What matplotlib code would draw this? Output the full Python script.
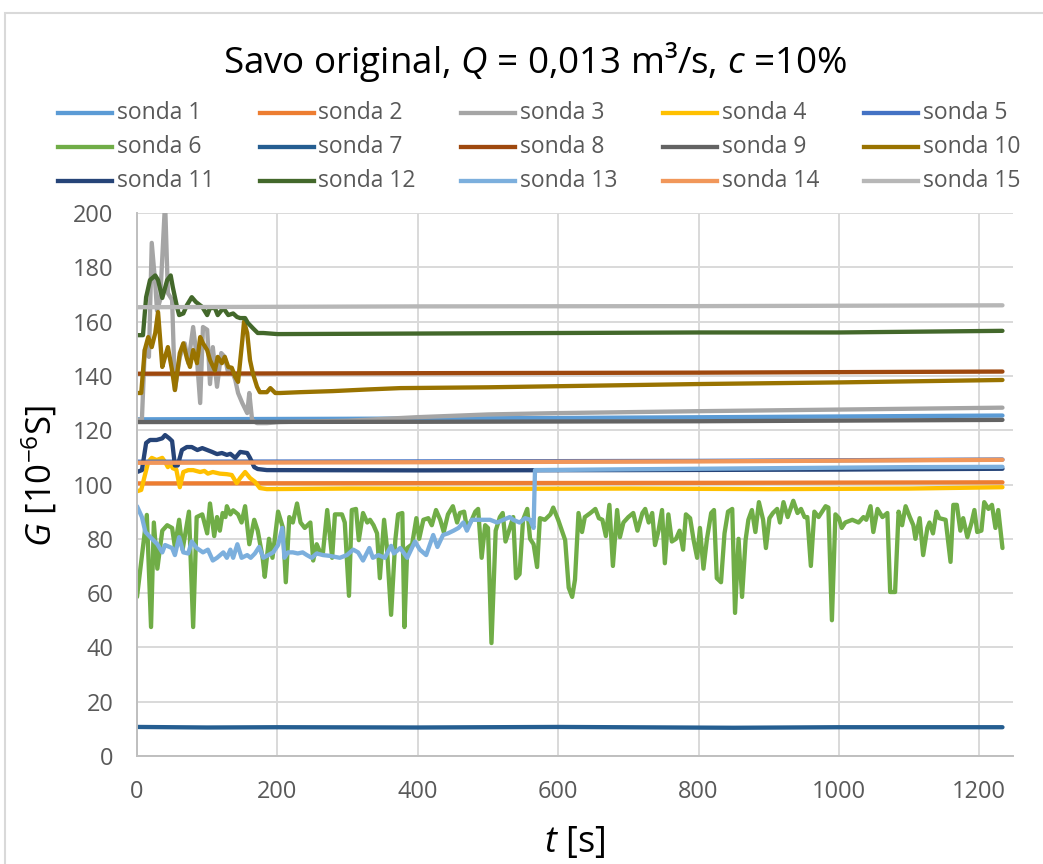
import matplotlib
matplotlib.use("Agg")
import matplotlib.pyplot as plt
from matplotlib.lines import Line2D
from matplotlib.patches import Rectangle

plt.rcParams['font.family'] = ['Open Sans', 'DejaVu Sans']
plt.rcParams['mathtext.fontset'] = 'custom'
plt.rcParams['mathtext.rm'] = 'Open Sans'
plt.rcParams['mathtext.it'] = 'Open Sans:italic'

# ---------------- data ----------------
series_names = [f"sonda {i}" for i in range(1, 16)]
series_colors = ["#5B9BD5", "#ED7D31", "#A5A5A5", "#FFC000", "#4472C4",
                 "#70AD47", "#255E91", "#9E480E", "#636363", "#997300",
                 "#264478", "#43682B", "#7CAFDD", "#F1975A", "#B7B7B7"]

s1_t = [0, 300, 600, 900, 1233]
s1_g = [124.0, 124.2, 124.5, 124.9, 125.4]

s2_t = [0, 400, 800, 1233]
s2_g = [100.4, 100.5, 100.6, 100.8]

s3_t = [0, 7, 11, 17, 21, 26, 28.5, 33, 40, 44, 50, 54, 61, 68, 73, 80, 85.5, 90,
        94, 100, 104, 108, 114, 120, 125, 130, 135, 140, 144, 150, 157, 160, 164,
        171, 185, 204, 300, 400, 500, 600, 800, 1000, 1233]
s3_g = [123.7, 124, 149.5, 147, 189, 174, 164, 168, 204, 170.5, 168, 134.8, 147,
        152, 144.7, 158, 146, 130, 158, 157, 137, 150.6, 136, 148.4, 147, 141, 142,
        138.5, 133.7, 130, 126.3, 133.7, 123.7, 122.6, 122.6, 123, 123.5, 124.8,
        125.8, 126.3, 127, 127.6, 128.3]

s4_t = [0, 6, 16, 21, 28, 36, 40, 44, 47, 51, 56, 61, 66, 73, 80, 90, 96, 101, 108,
        118, 128, 135, 142, 147, 154, 161, 168, 175, 185, 300, 500, 700, 900, 1100, 1233]
s4_g = [97.5, 98, 108.3, 109.8, 109, 109.8, 108.3, 106.4, 108, 106, 105.5, 99,
        104.6, 105.3, 105.3, 104.6, 105, 104, 104.6, 104, 103.8, 103.5, 100.5, 102.4,
        104.6, 102.4, 101, 98.7, 98.3, 98.5, 98.4, 98.5, 98.3, 98.5, 99.0]

s5_t = [0, 400, 800, 1233]
s5_g = [108.4, 108.5, 108.7, 109.2]

s6_t = [0, 14, 20, 24, 29, 36, 43, 50, 54, 60, 65, 74, 80, 85, 93, 100, 104, 110,
        114, 118, 122, 126, 128, 133, 137, 144, 149, 154, 160, 167, 172, 179, 182,
        188, 193, 201, 208, 212, 217, 222, 228, 233, 239, 247, 251, 256, 261, 265,
        271, 278, 282, 292, 296, 302, 306, 312, 316, 322, 328, 332, 337, 342, 346,
        352, 356, 362, 368, 372, 378, 381, 385, 392, 398, 402, 408, 415, 420, 426,
        432, 437, 443, 450, 456, 460, 466, 470, 477, 482, 486, 491, 496, 500, 505,
        511, 517, 521, 525, 530, 536, 540, 545, 550, 556, 560, 565, 570, 574, 581,
        589, 593, 600, 610, 615, 620, 624, 629, 634, 638, 646, 653, 658, 663, 668,
        673, 678, 684, 688, 693, 700, 707, 713, 720, 724, 729, 734, 738, 743, 748,
        752, 757, 762, 768, 773, 778, 782, 788, 793, 798, 802, 807, 812, 818, 822,
        826, 832, 837, 842, 848, 852, 857, 862, 867, 871, 876, 881, 886, 892, 896,
        901, 906, 912, 916, 921, 927, 935, 941, 946, 951, 955, 960, 965, 971, 981,
        985, 990, 995, 1000, 1004, 1009, 1019, 1028, 1035, 1039, 1045, 1049, 1055,
        1062, 1069, 1073, 1080, 1085, 1090, 1095, 1101, 1106, 1109, 1115, 1120,
        1126, 1129, 1134, 1139, 1143, 1152, 1159, 1163, 1168, 1173, 1177, 1183,
        1189, 1193, 1197, 1203, 1207, 1213, 1218, 1223, 1227, 1233]
s6_g = [58.6, 88.8, 47.5, 86, 69, 83, 85, 84, 77, 87, 76, 90, 47.5, 88, 89, 82, 93,
        81, 88, 83, 89.5, 88, 92, 89, 90.5, 89, 86, 92, 78, 87, 83, 73, 66, 80, 73,
        90, 84, 64, 88, 86, 93, 86, 84, 86, 72, 78, 75, 75, 90.6, 73, 89, 89, 86, 59,
        90.6, 91, 79.5, 89.5, 86, 87, 85, 82, 65.5, 87, 77, 52, 79.5, 89, 89.5, 47.5,
        76.6, 78, 87.6, 80, 87, 87.6, 85, 90.6, 87, 82.5, 89, 92, 86, 89.5, 90, 84,
        87, 90, 91, 73, 85, 84, 41.6, 83, 88, 89.5, 79, 83, 88, 65.5, 67, 87, 91, 80,
        78, 69.6, 87.6, 87, 89, 91.5, 87, 79.5, 62, 58.6, 65, 89.5, 82.5, 88, 89.5,
        91, 87.6, 87, 81, 92.5, 70, 90.6, 80.6, 86, 88, 89.5, 83, 89.5, 91, 86, 89.5,
        77.7, 83, 90.6, 71, 89, 79, 80, 83, 76, 89, 87.6, 79.5, 73, 84, 69, 80, 89.5,
        90.6, 65.5, 64, 82, 90, 91, 52.7, 80, 58.6, 79.5, 87, 90.6, 82.5, 93.5, 87,
        76.6, 87.6, 89.5, 91, 86, 93.5, 88, 94, 89.5, 91, 88, 88, 70, 90, 88, 92,
        91.5, 50, 89, 87.6, 84, 86, 87, 86, 88, 87, 92, 82.5, 91, 88, 89.5, 60.4,
        60.4, 90, 85, 92, 88, 85, 80, 87.6, 74, 84, 86, 82, 90, 87.6, 87, 71.5, 92.5,
        92.5, 83, 87.6, 80.6, 86, 90.6, 82.5, 83, 93.5, 91, 92.5, 84, 90.6, 76.6]

s7_t = [0, 100, 200, 400, 600, 850, 1000, 1233]
s7_g = [10.7, 10.5, 10.6, 10.5, 10.7, 10.4, 10.6, 10.6]

s8_t = [0, 400, 800, 1233]
s8_g = [140.8, 141.0, 141.2, 141.6]

s9_t = [0, 400, 800, 1233]
s9_g = [123.0, 123.1, 123.3, 123.8]

s10_t = [0, 6, 11, 16, 21, 26, 30, 36, 40, 44, 50, 54, 61, 66, 71, 75.5, 80, 85.5,
         90, 94, 100, 104, 111, 115, 121, 125, 130, 135, 140, 144, 150, 152.5, 157,
         161, 165, 171, 175, 185, 190, 197, 204, 232, 279, 328, 375, 500, 600, 800,
         1000, 1233]
s10_g = [133.7, 133.7, 149.5, 154.3, 150.6, 155.8, 163.5, 143.3, 147, 150.6, 142,
         134.8, 148.4, 152, 146.6, 143.3, 149.5, 144.7, 154.3, 152, 149.5, 145.8, 142,
         147, 144.7, 147, 143.3, 143, 139.6, 137.8, 153, 160, 155.8, 145.8, 141, 136,
         134, 134, 135.5, 133.7, 133.7, 134, 134.4, 135, 135.5, 135.8, 136.2, 137,
         137.6, 138.5]

s11_t = [0, 7, 13, 18.5, 28, 36, 40, 46, 50, 54, 58, 64, 71, 78, 86, 93, 100, 107,
         114, 121, 128, 133, 140, 147, 157, 161, 167, 172, 185, 400, 700, 1000, 1233]
s11_g = [104.6, 105.3, 115.3, 116.4, 116.4, 117, 118.2, 117, 116, 107, 107, 112.7,
         113.8, 113.8, 112.7, 113.4, 112.7, 112, 111.2, 111.6, 110.9, 111.3, 109.8,
         112, 111.6, 109.8, 106.4, 105.7, 105.3, 105.2, 105.3, 105.5, 105.8]

s12_t = [0, 8.5, 13, 18.5, 26, 30, 36, 43, 48, 51, 57, 60, 66, 71, 78, 84, 93, 100,
         104, 111, 115, 123, 130, 137, 142.5, 147, 154, 158, 165, 172, 180, 200, 400,
         600, 800, 1000, 1233]
s12_g = [155, 155, 169, 175.3, 177, 175.3, 168.7, 175.3, 177, 172.7, 165.4, 162.4,
         163, 166, 169, 167.2, 165.4, 162.4, 165, 165, 162.4, 165, 162.4, 163, 161.7,
         161.3, 161.3, 159.5, 157.6, 155.8, 155.8, 155.4, 155.6, 155.8, 156, 156,
         156.6]

s13_t = [0, 7, 12, 19, 29, 36, 40, 50, 54, 60, 66, 73, 78, 85, 94, 101, 108, 114,
         123, 128, 133, 137, 143, 149, 157, 162, 168, 174, 180, 187, 194, 201, 207,
         210, 215, 222, 229, 236, 242, 249, 256, 265, 275, 289, 299, 308, 315, 322,
         331, 336, 344, 353, 362, 366, 375, 385, 396, 403, 412, 422, 428, 436, 443,
         451, 458, 465, 470, 477, 482, 493, 503, 513, 522, 531, 536, 545, 553, 560,
         565, 567, 700, 900, 1100, 1233]
s13_g = [92, 88, 82.5, 80.6, 78, 75, 77.7, 76.6, 74, 80.6, 75, 74.6, 79, 76.6, 75,
         76, 72, 73, 75, 73, 76, 73, 78, 73, 74, 73, 74.6, 77, 73, 74, 75, 77.7, 84,
         73, 75, 75, 74.6, 75, 74, 73, 74.6, 74, 73.7, 73, 74, 76, 75, 72, 76.6, 73,
         74, 73, 77.4, 74.6, 76.6, 73, 79, 76, 74, 81.4, 77, 81.4, 82, 83, 84, 86, 83,
         87, 87, 87, 87, 86, 87, 88, 87, 86, 87.6, 87, 84, 105.3, 105.6, 106, 106.4,
         106.5]

s14_t = [0, 400, 800, 1233]
s14_g = [108.0, 108.2, 108.5, 109.1]

s15_t = [0, 400, 800, 1233]
s15_g = [165.3, 165.6, 165.7, 166.0]

x_ticks = [0, 200, 400, 600, 800, 1000, 1200]
y_ticks = [0, 20, 40, 60, 80, 100, 120, 140, 160, 180, 200]

all_t = [s1_t, s2_t, s3_t, s4_t, s5_t, s6_t, s7_t, s8_t, s9_t, s10_t, s11_t,
         s12_t, s13_t, s14_t, s15_t]
all_g = [s1_g, s2_g, s3_g, s4_g, s5_g, s6_g, s7_g, s8_g, s9_g, s10_g, s11_g,
         s12_g, s13_g, s14_g, s15_g]

# ---------------- figure ----------------
W, H = 1043, 864
fig = plt.figure(figsize=(W / 100, H / 100), dpi=100)
fig.patch.set_facecolor("white")

# chart border (cropped chart area)
fig.patches.append(Rectangle((5 / W, -0.05), 1.2, 1 - 13 / H + 0.05,
                             transform=fig.transFigure, fill=False,
                             edgecolor="#D9D9D9", lw=1.5))

ax = fig.add_axes([137 / W, 1 - 756 / H, (1013 - 137) / W, (756 - 213) / H])
ax.set_facecolor("white")

lw = 3.1
for t, g, c in zip(all_t, all_g, series_colors):
    ax.plot(t, g, color=c, lw=lw, solid_joinstyle="round",
            solid_capstyle="round", clip_on=True)

ax.set_xlim(0, 1248)
ax.set_ylim(0, 200)
ax.set_xticks(x_ticks)
ax.set_yticks(y_ticks)
ax.grid(True, color="#D9D9D9", lw=1.4)
ax.set_axisbelow(True)
for s in ["top", "right"]:
    ax.spines[s].set_visible(False)
for s in ["left", "bottom"]:
    ax.spines[s].set_color("#BFBFBF")
    ax.spines[s].set_linewidth(1.4)
ax.tick_params(axis="both", length=0, labelsize=17, labelcolor="#595959")
ax.tick_params(axis="x", pad=17)
ax.tick_params(axis="y", pad=17)

# axis titles
fig.text(575 / W, 1 - 843 / H, r"$\mathit{t}$ [s]", ha="center", va="center",
         fontsize=26, color="black")
fig.text(40 / W, 1 - 476 / H, r"$\mathit{G}$ [10$^{\mathrm{-6}}$S]", ha="center",
         va="center", rotation=90, fontsize=25, color="black")

# title
fig.text(535 / W, 1 - 62 / H,
         r"Savo original, $\mathit{Q}$ = 0,013 m³/s, $\mathit{c}$ =10%",
         ha="center", va="center", fontsize=26.5, color="black")

# legend (row-major, 5 columns)
for i, (name, c) in enumerate(zip(series_names, series_colors)):
    row, col = divmod(i, 5)
    x0 = 58 + col * 201.5
    y0 = 113 + row * 34
    fig.add_artist(Line2D([x0 / W, (x0 + 54) / W], [1 - y0 / H, 1 - y0 / H],
                          transform=fig.transFigure, color=c, lw=lw))
    fig.text((x0 + 59) / W, 1 - y0 / H, name, ha="left", va="center",
             fontsize=16.5, color="#595959")

fig.savefig("out.png", dpi=100, facecolor="white")
